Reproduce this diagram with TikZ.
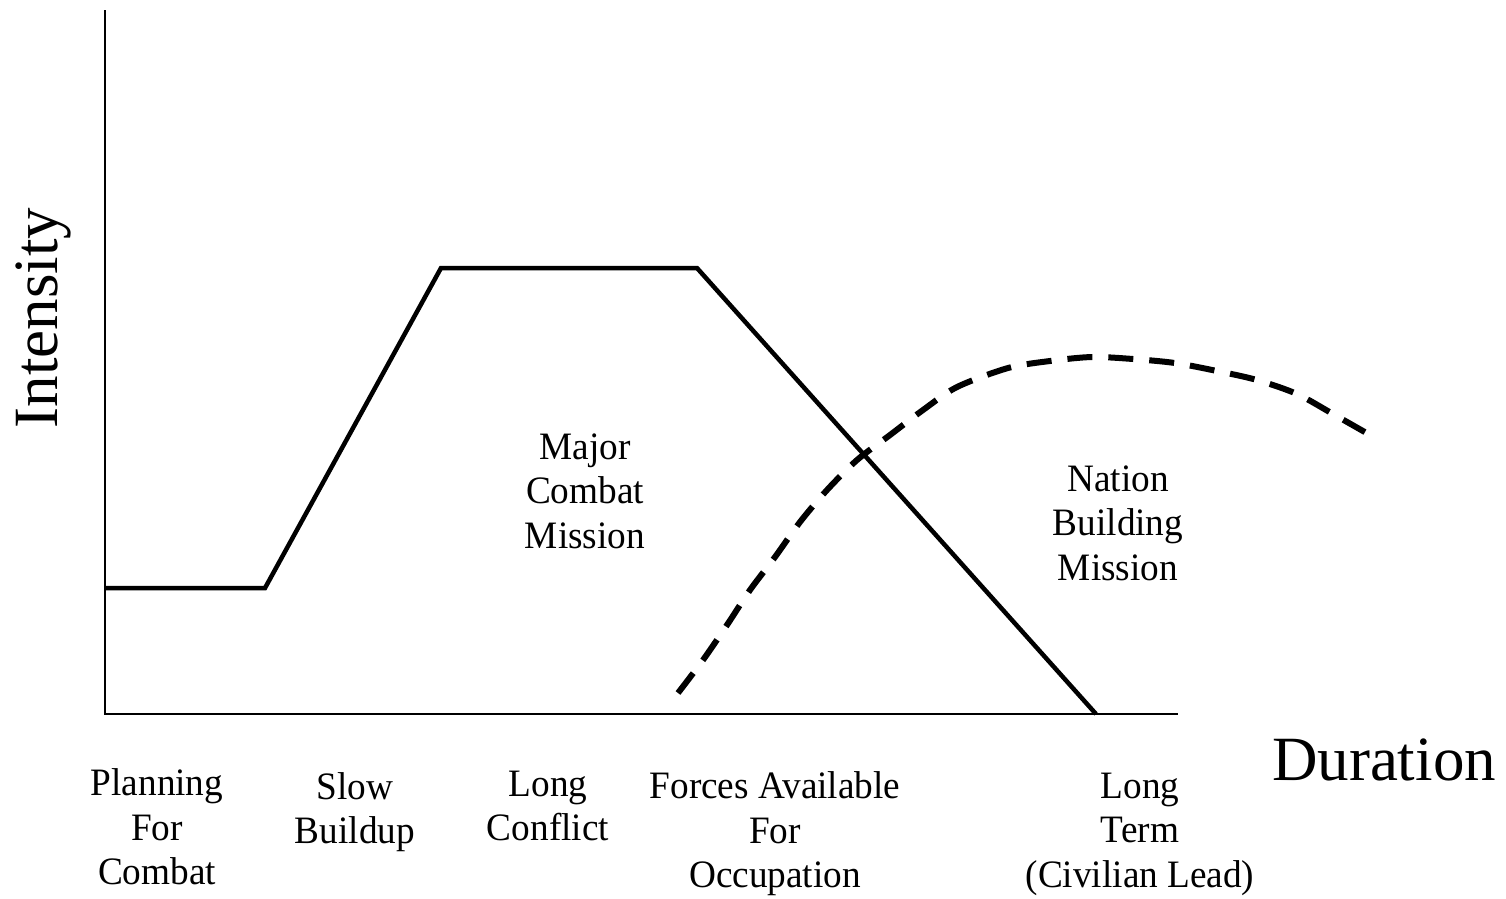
\documentclass[tikz,border=0pt]{standalone}
\usepackage{fontspec}
\setmainfont{Liberation Serif}
\newfontfamily\lblfont[FakeStretch=0.96]{Liberation Serif}

\begin{document}
\begin{tikzpicture}[x=1pt, y=-1pt,
	lbl/.style={align=center, inner sep=0pt, font=\lblfont\fontsize{38.8}{44.5}\selectfont},
	axlbl/.style={inner sep=0pt, font=\fontsize{63}{70}\selectfont}]
	\useasboundingbox (0,0) rectangle (1506,898);
	\draw[line width=2pt] (105,10) -- (105,714) -- (1178,714);
	\draw[line width=4.5pt] (105,588) -- (265,588) -- (441,268) -- (697,268) -- (1096,714);
	\draw[line width=6pt, dash pattern=on 25pt off 16pt] plot[smooth] coordinates
	  {(678,693) (703,660) (727,625) (750,590) (775,557) (800,522) (827,490) (857,460) (890,435)
	   (923,410) (957,387) (1008,368) (1050,361) (1092,357) (1133,359) (1175,363) (1217,371)
	   (1257,380) (1297,394) (1333,414) (1370,435)};
	\node[axlbl] (duration) at (1384,760) {Duration};
	\node[axlbl, rotate=90] (intensity) at (43,318) {Intensity};
	\node[lbl] (combat) at (585,491) {Major\\Combat\\Mission};
	\node[lbl] (nation) at (1118,523) {Nation\\Building\\Mission};
	\node[lbl] (planning) at (157,827) {Planning\\For\\Combat};
	\node[lbl] (slow) at (355,812) {Slow\\Buildup};
	\node[lbl] (long) at (548,806) {Long\\Conflict};
	\node[lbl] (forces) at (775,834) {Forces Available\\For\\Occupation};
	\node[lbl] (term) at (1140,834) {Long\\Term\\(Civilian Lead)};
\end{tikzpicture}
\end{document}
